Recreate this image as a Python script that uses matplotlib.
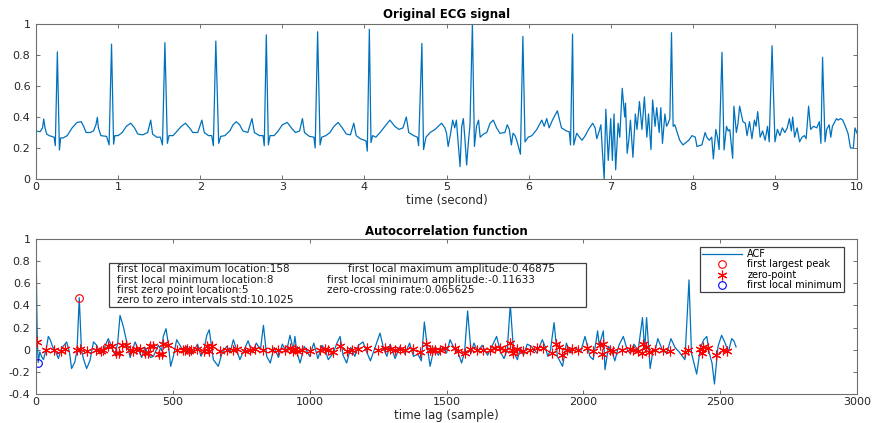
import matplotlib
matplotlib.use("Agg")
import matplotlib.pyplot as plt
from matplotlib.patches import Rectangle
from matplotlib.ticker import FormatStrFormatter

# ECG trace (seconds, amplitude)
ecg_time = [
    0.00, 0.05, 0.08, 0.094, 0.11, 0.13, 0.16, 0.22, 0.235, 0.26,
    0.285, 0.30, 0.33, 0.38, 0.44, 0.50, 0.55, 0.58, 0.61, 0.66,
    0.70, 0.73, 0.747, 0.76, 0.79, 0.86, 0.89, 0.92, 0.945, 0.96,
    1.00, 1.05, 1.10, 1.153, 1.20, 1.24, 1.30, 1.36, 1.397, 1.42,
    1.47, 1.515, 1.54, 1.57, 1.60, 1.62, 1.67, 1.72, 1.77, 1.82,
    1.87, 1.91, 1.97, 2.02, 2.05, 2.10, 2.14, 2.16, 2.19, 2.225,
    2.25, 2.30, 2.36, 2.40, 2.44, 2.48, 2.52, 2.58, 2.63, 2.66,
    2.72, 2.765, 2.78, 2.805, 2.83, 2.85, 2.90, 2.95, 3.00, 3.06,
    3.11, 3.16, 3.21, 3.245, 3.27, 3.33, 3.385, 3.40, 3.43, 3.46,
    3.48, 3.53, 3.58, 3.63, 3.68, 3.73, 3.78, 3.83, 3.87, 3.90,
    3.95, 4.00, 4.02, 4.035, 4.06, 4.08, 4.10, 4.14, 4.19, 4.25,
    4.31, 4.37, 4.42, 4.47, 4.51, 4.54, 4.60, 4.645, 4.66, 4.70,
    4.72, 4.75, 4.80, 4.86, 4.94, 4.98, 5.00, 5.02, 5.05, 5.075,
    5.10, 5.12, 5.14, 5.165, 5.185, 5.205, 5.225, 5.245, 5.265, 5.286,
    5.315, 5.34, 5.365, 5.39, 5.41, 5.45, 5.49, 5.53, 5.57, 5.61,
    5.65, 5.71, 5.74, 5.765, 5.79, 5.81, 5.835, 5.855, 5.90, 5.93,
    5.956, 5.995, 6.04, 6.10, 6.16, 6.19, 6.22, 6.25, 6.29, 6.35,
    6.40, 6.46, 6.495, 6.51, 6.535, 6.55, 6.585, 6.62, 6.65, 6.69,
    6.73, 6.78, 6.81, 6.83, 6.86, 6.88, 6.90, 6.92, 6.94, 6.97,
    7.00, 7.02, 7.04, 7.06, 7.09, 7.11, 7.14, 7.17, 7.18, 7.20,
    7.22, 7.24, 7.27, 7.30, 7.32, 7.35, 7.38, 7.41, 7.44, 7.46,
    7.49, 7.51, 7.54, 7.56, 7.59, 7.61, 7.63, 7.66, 7.68, 7.70,
    7.72, 7.74, 7.76, 7.78, 7.81, 7.84, 7.88, 7.95, 7.99, 8.03,
    8.05, 8.11, 8.15, 8.17, 8.20, 8.23, 8.25, 8.28, 8.30, 8.32,
    8.355, 8.38, 8.41, 8.43, 8.45, 8.485, 8.50, 8.53, 8.55, 8.57,
    8.61, 8.64, 8.66, 8.69, 8.72, 8.75, 8.77, 8.79, 8.82, 8.85,
    8.88, 8.91, 8.93, 8.965, 9.00, 9.03, 9.06, 9.09, 9.12, 9.15,
    9.176, 9.20, 9.216, 9.24, 9.27, 9.30, 9.33, 9.36, 9.38, 9.41,
    9.435, 9.47, 9.51, 9.54, 9.56, 9.58, 9.61, 9.63, 9.66, 9.68,
    9.70, 9.73, 9.75, 9.77, 9.80, 9.825, 9.85, 9.89, 9.92, 9.955,
    9.975, 10.0,
]
ecg_amp = [
    0.31, 0.305, 0.33, 0.387, 0.33, 0.29, 0.28, 0.27, 0.215, 0.82,
    0.187, 0.265, 0.265, 0.28, 0.33, 0.365, 0.37, 0.34, 0.30, 0.30,
    0.31, 0.35, 0.398, 0.33, 0.28, 0.275, 0.22, 0.87, 0.225, 0.28,
    0.28, 0.30, 0.34, 0.36, 0.33, 0.29, 0.285, 0.30, 0.38, 0.29,
    0.27, 0.27, 0.22, 0.88, 0.23, 0.28, 0.28, 0.31, 0.34, 0.36,
    0.33, 0.30, 0.30, 0.38, 0.30, 0.28, 0.28, 0.215, 0.89, 0.23,
    0.275, 0.28, 0.31, 0.35, 0.37, 0.35, 0.31, 0.30, 0.39, 0.30,
    0.28, 0.28, 0.215, 0.93, 0.22, 0.28, 0.28, 0.31, 0.35, 0.365,
    0.33, 0.30, 0.31, 0.39, 0.30, 0.275, 0.27, 0.20, 0.95, 0.22,
    0.27, 0.28, 0.30, 0.34, 0.365, 0.33, 0.29, 0.285, 0.36, 0.28,
    0.26, 0.25, 0.245, 0.18, 0.966, 0.235, 0.28, 0.27, 0.30, 0.34,
    0.38, 0.34, 0.32, 0.33, 0.40, 0.30, 0.28, 0.27, 0.215, 0.875,
    0.19, 0.27, 0.30, 0.32, 0.36, 0.33, 0.295, 0.21, 0.295, 0.38,
    0.33, 0.38, 0.25, 0.08, 0.34, 0.39, 0.25, 0.09, 0.23, 0.35,
    1.0, 0.21, 0.34, 0.38, 0.27, 0.29, 0.30, 0.36, 0.38, 0.33,
    0.295, 0.30, 0.35, 0.32, 0.22, 0.295, 0.28, 0.25, 0.16, 0.92,
    0.24, 0.27, 0.28, 0.32, 0.38, 0.34, 0.39, 0.33, 0.38, 0.44,
    0.33, 0.31, 0.305, 0.22, 0.935, 0.22, 0.295, 0.27, 0.25, 0.28,
    0.32, 0.36, 0.33, 0.26, 0.31, 0.35, 0.166, 0.0, 0.45, 0.12,
    0.39, 0.12, 0.42, 0.06, 0.36, 0.27, 0.585, 0.40, 0.49, 0.166,
    0.25, 0.38, 0.14, 0.42, 0.32, 0.50, 0.32, 0.53, 0.27, 0.42,
    0.19, 0.51, 0.34, 0.46, 0.30, 0.46, 0.23, 0.42, 0.34, 0.36,
    0.39, 0.944, 0.34, 0.35, 0.30, 0.25, 0.22, 0.25, 0.28, 0.27,
    0.21, 0.22, 0.30, 0.27, 0.25, 0.27, 0.13, 0.32, 0.27, 0.19,
    0.817, 0.188, 0.34, 0.31, 0.32, 0.134, 0.47, 0.30, 0.36, 0.47,
    0.37, 0.36, 0.28, 0.37, 0.26, 0.38, 0.34, 0.435, 0.27, 0.31,
    0.25, 0.34, 0.24, 0.86, 0.24, 0.32, 0.28, 0.33, 0.30, 0.33,
    0.39, 0.31, 0.40, 0.27, 0.33, 0.24, 0.27, 0.28, 0.26, 0.47,
    0.32, 0.34, 0.33, 0.37, 0.23, 0.785, 0.24, 0.32, 0.35, 0.27,
    0.34, 0.37, 0.39, 0.38, 0.39, 0.38, 0.35, 0.295, 0.20, 0.20,
    0.33, 0.295,
]

# autocorrelation (lag in samples, value)
acf_lag = [
    0, 3, 5, 8, 14, 20, 27, 37, 45, 52,
    60, 70, 82, 91, 99, 112, 122, 130, 142, 150,
    158, 166, 173, 185, 197, 210, 222, 234, 246, 264,
    276, 288, 298, 307, 319, 334, 344, 362, 374, 386,
    398, 410, 419, 429, 447, 459, 465, 475, 484, 492,
    503, 514, 526, 538, 550, 560, 575, 590, 603, 614,
    624, 633, 648, 666, 680, 697, 710, 721, 733, 745,
    764, 775, 790, 805, 820, 831, 843, 856, 870, 886,
    900, 915, 928, 940, 946, 953, 965, 980, 1000, 1015,
    1030, 1045, 1056, 1068, 1086, 1098, 1111, 1122, 1135, 1150,
    1165, 1178, 1195, 1208, 1222, 1240, 1257, 1270, 1282, 1294,
    1312, 1330, 1348, 1365, 1379, 1395, 1408, 1419, 1430, 1440,
    1455, 1470, 1485, 1500, 1513, 1530, 1543, 1555, 1566, 1577,
    1590, 1600, 1615, 1630, 1650, 1660, 1683, 1697, 1710, 1722,
    1733, 1745, 1759, 1770, 1781, 1795, 1810, 1830, 1850, 1860,
    1870, 1880, 1893, 1905, 1924, 1938, 1950, 1970, 1990, 2006,
    2024, 2036, 2052, 2058, 2073, 2079, 2092, 2105, 2115, 2130,
    2146, 2160, 2170, 2185, 2200, 2216, 2224, 2231, 2244, 2255,
    2262, 2272, 2290, 2305, 2320, 2335, 2350, 2371, 2386, 2395,
    2414, 2428, 2440, 2451, 2460, 2470, 2479, 2492, 2505, 2518,
    2530, 2542, 2550, 2558,
]
acf_val = [
    1.0, 0.35, 0.07, -0.116, -0.02, -0.06, -0.09, 0.0, 0.12, 0.09,
    0.03, -0.01, -0.08, 0.0, 0.03, 0.07, -0.02, -0.17, -0.11, 0.0,
    0.469, 0.0, -0.08, -0.17, -0.10, 0.07, 0.04, -0.04, 0.0, 0.10,
    0.03, -0.04, 0.05, 0.31, 0.21, 0.04, -0.07, 0.07, 0.0, -0.07,
    0.02, -0.04, -0.07, -0.06, 0.04, -0.01, 0.12, 0.19, 0.04, -0.15,
    -0.05, 0.09, 0.04, -0.02, 0.03, -0.04, -0.02, 0.05, -0.06, 0.0,
    0.13, 0.18, -0.09, -0.15, -0.03, 0.03, -0.02, 0.09, 0.0, -0.09,
    0.02, 0.08, -0.03, 0.06, 0.0, 0.22, -0.06, -0.12, 0.02, -0.07,
    0.05, -0.02, 0.13, 0.0, 0.12, -0.02, -0.12, 0.03, -0.06, 0.06,
    -0.08, 0.04, 0.0, -0.09, -0.03, 0.05, 0.12, -0.05, -0.12, 0.02,
    -0.06, 0.04, 0.07, -0.02, -0.10, 0.03, 0.15, 0.01, -0.06, 0.05,
    -0.08, 0.03, -0.04, 0.06, -0.06, -0.04, -0.10, 0.25, 0.02, -0.15,
    0.02, -0.05, 0.02, -0.03, 0.09, 0.0, -0.03, -0.12, -0.02, 0.35,
    -0.03, 0.06, -0.02, 0.04, -0.05, 0.0, 0.12, -0.02, -0.08, 0.0,
    0.41, -0.02, -0.09, 0.02, -0.05, 0.05, 0.03, -0.03, 0.09, 0.03,
    -0.06, 0.0, 0.245, -0.06, -0.15, 0.06, -0.03, 0.02, -0.02, 0.12,
    -0.06, -0.09, 0.17, 0.04, 0.17, -0.18, 0.03, -0.02, -0.10, 0.04,
    0.12, 0.0, -0.03, 0.05, -0.01, 0.29, 0.0, 0.29, -0.17, 0.0,
    -0.01, 0.10, -0.01, -0.03, 0.10, 0.02, -0.02, -0.09, 0.63, -0.03,
    -0.22, 0.02, 0.09, 0.12, -0.03, -0.12, -0.31, 0.03, 0.13, 0.06,
    -0.02, 0.10, 0.08, 0.025,
]

# zero crossings of the ACF
zero_lag = [
    5, 37, 66, 91, 106, 148, 159, 188, 218, 236,
    246, 264, 276, 292, 305, 316, 329, 345, 356, 367,
    380, 397, 410, 418, 429, 450, 459, 465, 484, 514,
    538, 545, 552, 558, 565, 587, 614, 624, 633, 642,
    672, 697, 721, 733, 764, 782, 800, 831, 861, 886,
    910, 928, 940, 946, 953, 971, 1001, 1038, 1056, 1068,
    1086, 1111, 1135, 1153, 1178, 1208, 1251, 1275, 1294, 1312,
    1330, 1348, 1379, 1403, 1425, 1440, 1446, 1458, 1476, 1494,
    1531, 1543, 1568, 1586, 1610, 1635, 1659, 1677, 1696, 1714,
    1732, 1738, 1744, 1759, 1781, 1805, 1830, 1854, 1884, 1900,
    1912, 1921, 1939, 1957, 1982, 2012, 2037, 2061, 2067, 2073,
    2097, 2110, 2140, 2170, 2183, 2201, 2213, 2219, 2229, 2238,
    2262, 2292, 2317, 2371, 2384, 2426, 2432, 2438, 2457, 2485,
    2511, 2526,
]
zero_val = [
    0.067, 0.0, 0.0, -0.01, 0.005, 0.0, 0.01, -0.01, 0.0, -0.01,
    0.0, 0.03, 0.03, -0.03, -0.03, 0.04, 0.04, -0.005, -0.01, 0.01,
    0.01, -0.03, -0.03, 0.03, 0.03, -0.035, -0.04, 0.05, 0.04, 0.0,
    0.0, -0.005, 0.005, -0.01, 0.0, 0.005, -0.01, 0.035, -0.01, 0.035,
    -0.015, 0.0, 0.0, 0.005, -0.015, 0.0, 0.01, 0.0, -0.005, -0.005,
    0.0, 0.015, -0.015, 0.005, -0.015, 0.0, -0.015, 0.0, 0.005, -0.005,
    -0.025, 0.03, -0.015, 0.0, 0.005, 0.015, -0.005, 0.015, 0.005, -0.005,
    0.005, -0.005, 0.005, -0.02, 0.05, -0.005, 0.0, 0.0, 0.0, 0.015,
    0.015, -0.015, -0.03, 0.005, 0.0, -0.005, 0.0, 0.015, 0.015, 0.0,
    0.06, -0.005, -0.03, 0.005, -0.015, 0.0, 0.015, 0.015, -0.03, 0.05,
    0.02, -0.05, 0.0, 0.005, 0.0, 0.015, -0.015, 0.04, -0.04, 0.05,
    0.0, -0.015, 0.0, 0.005, 0.0, -0.015, -0.03, 0.05, 0.02, -0.02,
    -0.005, 0.0, -0.015, -0.02, 0.0, 0.005, -0.03, 0.02, 0.015, -0.05,
    -0.005, -0.015,
]

peak_lag, peak_amp = 158, 0.46875
min_lag, min_amp = 8, -0.11633

info_left = [
    "first local maximum location:158",
    "first local minimum location:8",
    "first zero point location:5",
    "zero to zero intervals std:10.1025",
]
info_right = [
    "first local maximum amplitude:0.46875",
    "first local minimum amplitude:-0.11633",
    "zero-crossing rate:0.065625",
]

plt.rcParams["axes.unicode_minus"] = False
plt.rcParams["font.family"] = ["DejaVu Sans"]

line_blue = "#0072BD"
frame = "#6e6e6e"
label_col = "#262626"


def style_axes(ax):
    for side in ax.spines.values():
        side.set_color(frame)
        side.set_linewidth(0.8)
    ax.tick_params(direction="in", length=3, width=0.7, color=frame,
                   labelcolor=label_col, labelsize=8,
                   top=True, right=True)
    ax.tick_params(axis="x", pad=2.5)
    ax.tick_params(axis="y", pad=4)
    ax.yaxis.set_major_formatter(FormatStrFormatter("%g"))


fig = plt.figure(figsize=(8.74, 4.23), dpi=100)

ax1 = fig.add_axes([0.0412, 0.5768, 0.9394, 0.3664])
ax1.plot(ecg_time, ecg_amp, color=line_blue, linewidth=0.9)
ax1.set_xlim(0, 10)
ax1.set_ylim(0, 1)
ax1.set_xticks(range(0, 11))
ax1.set_yticks([0, 0.2, 0.4, 0.6, 0.8, 1])
style_axes(ax1)
ax1.set_title("Original ECG signal", fontsize=8.5, fontweight="bold", pad=4)
ax1.set_xlabel("time (second)", fontsize=8.5, color=label_col, labelpad=1)

ax2 = fig.add_axes([0.0412, 0.0686, 0.9394, 0.3664])
ax2.plot(acf_lag, acf_val, color=line_blue, linewidth=0.9, label="ACF")
ax2.plot([peak_lag], [peak_amp], "o", markersize=5.5, markerfacecolor="none",
         markeredgecolor="red", markeredgewidth=0.8, label="first largest peak")
ax2.plot(zero_lag, zero_val, linestyle="none", marker=(6, 2, 0), markersize=7,
         color="red", markeredgewidth=0.8, label="zero-point")
ax2.plot([min_lag], [min_amp], "o", markersize=5.5, markerfacecolor="none",
         markeredgecolor="blue", markeredgewidth=0.8, label="first local minimum")
ax2.set_xlim(0, 3000)
ax2.set_ylim(-0.4, 1)
ax2.set_xticks(range(0, 3001, 500))
ax2.set_yticks([-0.4, -0.2, 0, 0.2, 0.4, 0.6, 0.8, 1])
style_axes(ax2)
ax2.set_title("Autocorrelation function", fontsize=8.5, fontweight="bold", pad=3)
ax2.set_xlabel("time lag (sample)", fontsize=8.5, color=label_col, labelpad=1)

# summary box
ax2.add_patch(Rectangle((0.0889, 0.561), 0.581, 0.284, transform=ax2.transAxes,
                        facecolor="white", edgecolor="#404040", linewidth=0.9,
                        zorder=5))
row_y = [0.805, 0.737, 0.671, 0.606]
for txt, y in zip(info_left, row_y):
    ax2.text(0.0987, y, txt, transform=ax2.transAxes, fontsize=7.5,
             va="center", ha="left", color="#1a1a1a", zorder=6)
for txt, x, y in zip(info_right, [0.380, 0.354, 0.354], row_y):
    ax2.text(x, y, txt, transform=ax2.transAxes, fontsize=7.5,
             va="center", ha="left", color="#1a1a1a", zorder=6)

leg = ax2.legend(loc="upper right", bbox_to_anchor=(0.984, 0.948),
                 borderaxespad=0, fontsize=7, frameon=True, fancybox=False,
                 framealpha=1, edgecolor="#404040", labelspacing=0.05,
                 borderpad=0.2, handlelength=4.2, handletextpad=0.5)
leg.get_frame().set_linewidth(0.9)
leg.set_zorder(7)

fig.savefig("out.png", dpi=100)
plt.close(fig)
